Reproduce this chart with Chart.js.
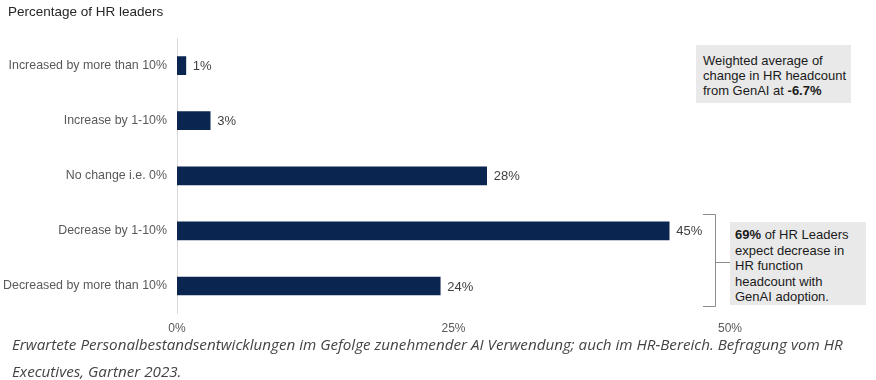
<!DOCTYPE html>
<html>
<head>
<meta charset="utf-8">
<script src="https://cdn.jsdelivr.net/npm/chart.js@4"></script>
<style>
  html, body { margin: 0; padding: 0; background: #ffffff; }
  body { width: 876px; height: 380px; position: relative; overflow: hidden; font-family: "Liberation Sans", Arial, sans-serif; }
  #wrap { position: absolute; left: 0; top: 0; width: 876px; height: 346px; }
  #title { position: absolute; left: 8px; top: 4px; font-size: 13.5px; color: #262626; }
  .note { position: absolute; background: #e9e9e9; color: #1a1a1a; font-size: 13px; }
  #note1 { left: 696px; top: 45px; width: 155px; height: 58px; padding: 8px 0 0 7px; box-sizing: border-box; line-height: 15px; }
  #note2 { left: 730px; top: 222px; width: 136px; height: 83px; padding: 5px 0 0 5px; box-sizing: border-box; line-height: 15.5px; }
  #caption { position: absolute; left: 12px; top: 331px; width: 850px; font-family: "Open Sans", sans-serif; font-style: italic; font-size: 15.2px; line-height: 27px; color: #444; }
</style>
</head>
<body>
<div id="wrap"><canvas id="c"></canvas></div>
<div id="title">Percentage of HR leaders</div>
<div class="note" id="note1">Weighted average of<br>change in HR headcount<br>from GenAI at <b>-6.7%</b></div>
<div class="note" id="note2"><b>69%</b> of HR Leaders<br>expect decrease in<br>HR function<br>headcount with<br>GenAI adoption.</div>
<div id="caption">Erwartete Personalbestandsentwicklungen im Gefolge zunehmender AI Verwendung; auch im HR-Bereich. Befragung vom HR Executives, Gartner 2023.</div>
<script>
const categories = ["Increased by more than 10%", "Increase by 1-10%", "No change i.e. 0%", "Decrease by 1-10%", "Decreased by more than 10%"];
const shares = [0.8, 3.0, 28.0, 44.5, 23.8];
const shareLabels = ["1%", "3%", "28%", "45%", "24%"];
const xTicks = [0, 25, 50];

const valueLabels = {
  id: 'valueLabels',
  afterDatasetsDraw(chart) {
    const ctx = chart.ctx;
    const meta = chart.getDatasetMeta(0);
    ctx.save();
    ctx.font = '13px "Liberation Sans", Arial, sans-serif';
    ctx.fillStyle = '#404040';
    ctx.textBaseline = 'middle';
    ctx.textAlign = 'left';
    meta.data.forEach((bar, i) => {
      ctx.fillText(shareLabels[i], bar.x + 7, bar.y + 1);
    });
    ctx.restore();
  }
};

const bracket = {
  id: 'bracket',
  afterDraw(chart) {
    const ctx = chart.ctx;
    const y = chart.scales.y;
    const right = chart.chartArea.right;
    const top = y.getPixelForValue(3) - 17;
    const bottom = y.getPixelForValue(4) + 20;
    const xv = right - 15, xl = right - 27, xr = right;
    const mid = (top + bottom) / 2 + 2;
    ctx.save();
    ctx.strokeStyle = '#8c8c8c';
    ctx.lineWidth = 1;
    ctx.beginPath();
    ctx.moveTo(xl, Math.round(top) + 0.5);
    ctx.lineTo(xv + 0.5, Math.round(top) + 0.5);
    ctx.lineTo(xv + 0.5, Math.round(bottom) + 0.5);
    ctx.lineTo(xl, Math.round(bottom) + 0.5);
    ctx.moveTo(xv + 0.5, Math.round(mid) + 0.5);
    ctx.lineTo(xr, Math.round(mid) + 0.5);
    ctx.stroke();
    ctx.restore();
  }
};

new Chart(document.getElementById('c'), {
  type: 'bar',
  data: {
    labels: categories,
    datasets: [{
      data: shares,
      backgroundColor: '#0a2550',
      barThickness: 18
    }]
  },
  options: {
    indexAxis: 'y',
    responsive: true,
    maintainAspectRatio: false,
    animation: false,
    layout: { padding: { top: 38, right: 146, bottom: 2, left: 0 } },
    plugins: { legend: { display: false }, tooltip: { enabled: false } },
    scales: {
      x: {
        min: 0, max: 50,
        afterBuildTicks(scale) { scale.ticks = xTicks.map(v => ({ value: v })); },
        grid: { display: false, drawTicks: false },
        border: { display: false },
        ticks: {
          padding: 8,
          color: '#595959',
          font: { family: '"Liberation Sans", Arial, sans-serif', size: 12 },
          callback: (v) => v + '%'
        }
      },
      y: {
        afterFit(scale) { scale.width = 177; },
        grid: { display: false, drawTicks: false },
        border: { display: true, color: '#d9d9d9', width: 1 },
        ticks: {
          padding: 10,
          color: '#595959',
          font: { family: '"Liberation Sans", Arial, sans-serif', size: 12.4 }
        }
      }
    }
  },
  plugins: [valueLabels, bracket]
});
</script>
</body>
</html>
